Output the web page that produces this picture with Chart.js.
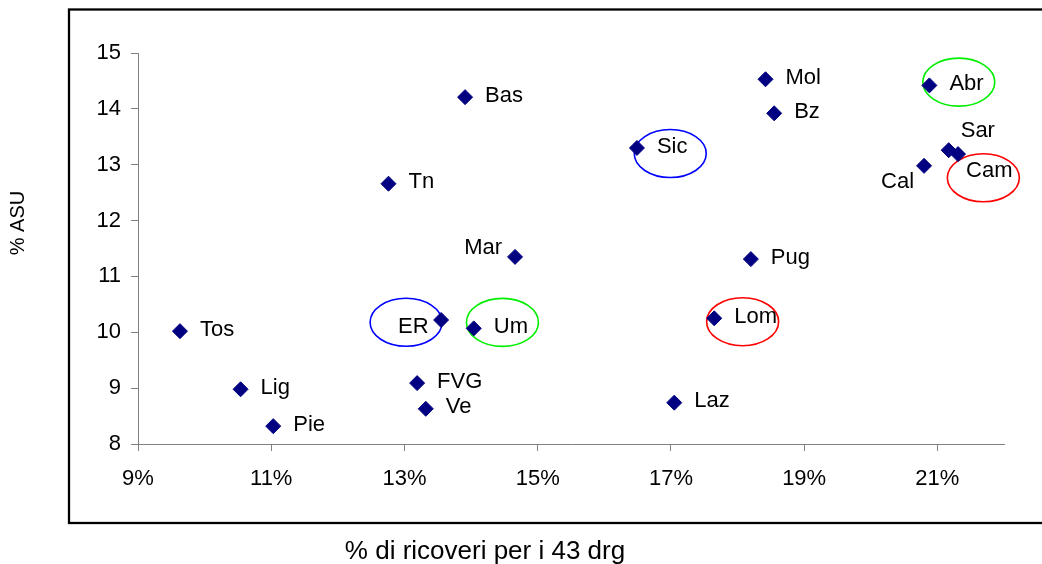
<!DOCTYPE html>
<html lang="it">
<head>
<meta charset="utf-8">
<title>% ASU / % di ricoveri per i 43 drg</title>
<script src="https://cdn.jsdelivr.net/npm/chart.js@4.4.0/dist/chart.umd.min.js"></script>
<style>
    html, body { margin: 0; padding: 0; background: #fff; }
    #wrap { width: 1042px; height: 564px; }
</style>
</head>
<body>
<div id="wrap"><canvas id="chart" width="1042" height="564"></canvas></div>
<script>
// data
const regions = ['Tos', 'Lig', 'Pie', 'FVG', 'Ve', 'ER', 'Um', 'Bas', 'Tn', 'Mar', 'Sic', 'Mol', 'Bz', 'Abr', 'Sar', 'Cam', 'Cal', 'Pug', 'Lom', 'Laz'];
const ricoveri43 = [9.63, 10.54, 11.03, 13.19, 13.32, 13.55, 14.04, 13.91, 12.76, 14.66, 16.49, 18.42, 18.55, 20.88, 21.17, 21.31, 20.80, 18.20, 17.65, 17.05];
const asu = [10.02, 8.98, 8.32, 9.09, 8.63, 10.22, 10.07, 14.21, 12.66, 11.35, 13.30, 14.53, 13.92, 14.42, 13.26, 13.19, 12.98, 11.31, 10.25, 8.74];
const xTicks = [9, 11, 13, 15, 17, 19, 21];
const yTicks = [8, 9, 10, 11, 12, 13, 14, 15];
const xTitle = '% di ricoveri per i 43 drg';
const yTitle = '% ASU';

// label placement: [dx, dy, align] from the marker
const labelPlacement = {
    default: [20, -1.5, 'left'],
    Mar: [-13, -8.5, 'right'],
    ER: [-12.5, 6.5, 'right'],
    Cal: [-10, 16, 'right'],
    Sar: [12, -19, 'left'],
    Cam: [8, 17, 'left'],
};

// hand-drawn ellipses: colour and centre offset from the marker
const highlights = {
    ER: ['#0000ff', -35, 2.3],
    Um: ['#00ee00', 28.7, -6],
    Sic: ['#0000ff', 33.3, 5.6],
    Abr: ['#00ee00', 29.4, -3.3],
    Cam: ['#ff0000', 25.3, 23.7],
    Lom: ['#ff0000', 28.4, 3.4],
};

const fontFamily = '"Liberation Sans", Arial, sans-serif';
const axisGrey = '#808080';

const annotations = {
    id: 'annotations',
    beforeDraw(chart) {
        const { ctx } = chart;
        ctx.save();
        ctx.strokeStyle = '#000';
        ctx.lineWidth = 2.3;
        ctx.strokeRect(69, 9.5, 1000, 513.5);

        ctx.fillStyle = '#000';
        ctx.font = `20px ${fontFamily}`;
        ctx.textAlign = 'center';
        ctx.textBaseline = 'middle';
        ctx.translate(18, 223);
        ctx.rotate(-Math.PI / 2);
        ctx.fillText(yTitle, 0, 0);
        ctx.restore();

        ctx.save();
        ctx.fillStyle = '#000';
        ctx.font = `26px ${fontFamily}`;
        ctx.textAlign = 'center';
        ctx.textBaseline = 'middle';
        ctx.fillText(xTitle, 485, 552);
        ctx.restore();
    },
    beforeDatasetsDraw(chart) {
        const { ctx } = chart;
        const points = chart.getDatasetMeta(0).data;
        ctx.save();
        ctx.lineWidth = 1.6;
        regions.forEach((name, i) => {
            const hl = highlights[name];
            if (!hl) {
                return;
            }
            ctx.strokeStyle = hl[0];
            ctx.beginPath();
            ctx.ellipse(points[i].x + hl[1], points[i].y + hl[2], 36, 24, 0, 0, Math.PI * 2);
            ctx.stroke();
        });
        ctx.restore();
    },
    afterDatasetsDraw(chart) {
        const { ctx } = chart;
        const points = chart.getDatasetMeta(0).data;
        ctx.save();
        ctx.fillStyle = '#000';
        ctx.font = `22px ${fontFamily}`;
        ctx.textBaseline = 'middle';
        regions.forEach((name, i) => {
            const [dx, dy, align] = labelPlacement[name] || labelPlacement.default;
            ctx.textAlign = align;
            ctx.fillText(name, points[i].x + dx, points[i].y + dy);
        });
        ctx.restore();
    },
};

new Chart(document.getElementById('chart'), {
    type: 'scatter',
    data: {
        datasets: [{
            data: regions.map((name, i) => ({ x: ricoveri43[i], y: asu[i] })),
            pointStyle: 'rectRot',
            pointRadius: 7.5,
            borderWidth: 1,
            borderColor: '#000080',
            backgroundColor: '#000080',
        }],
    },
    options: {
        responsive: false,
        animation: false,
        devicePixelRatio: 1,
        layout: {
            padding: { left: 0, top: 53, right: 38, bottom: 0 },
        },
        plugins: {
            legend: { display: false },
            tooltip: { enabled: false },
        },
        scales: {
            x: {
                type: 'linear',
                min: 9,
                max: 22,
                afterBuildTicks(scale) {
                    scale.ticks = xTicks.map((value) => ({ value }));
                },
                afterFit(scale) {
                    scale.height = 120;
                },
                border: { color: axisGrey, width: 1 },
                grid: { drawOnChartArea: false, drawTicks: true, tickLength: 7, color: axisGrey },
                ticks: {
                    color: '#000',
                    padding: 15,
                    maxRotation: 0,
                    font: { family: fontFamily, size: 22 },
                    callback: (value) => `${value}%`,
                },
            },
            y: {
                type: 'linear',
                min: 8,
                max: 15,
                afterBuildTicks(scale) {
                    scale.ticks = yTicks.map((value) => ({ value }));
                },
                afterFit(scale) {
                    scale.width = 138;
                },
                border: { color: axisGrey, width: 1 },
                grid: { drawOnChartArea: false, drawTicks: true, tickLength: 7, color: axisGrey },
                ticks: {
                    color: '#000',
                    padding: 10,
                    font: { family: fontFamily, size: 22 },
                },
            },
        },
    },
    plugins: [annotations],
});
</script>
</body>
</html>
